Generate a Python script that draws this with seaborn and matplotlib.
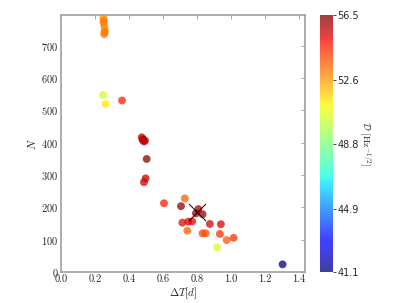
import numpy as np
import pandas as pd
import seaborn as sns
import matplotlib
matplotlib.use('Agg')
import matplotlib.pyplot as plt

# values
dT = [0.249, 0.252, 0.250, 0.255, 0.258, 0.256, 0.254,
      0.247, 0.263, 0.359,
      0.475, 0.494, 0.483, 0.488, 0.480,
      0.504, 0.498, 0.488,
      0.606, 0.729, 0.706, 0.808, 0.794, 0.833,
      0.714, 0.749, 0.772, 0.743, 0.876, 0.941,
      0.833, 0.851, 0.935, 0.975, 1.016, 0.919, 1.304]
N = [786, 778, 772, 760, 747, 742, 736,
     548, 520, 531,
     417, 407, 411, 404, 409,
     350, 290, 278,
     213, 228, 204, 195, 182, 179,
     153, 156, 157, 128, 149, 148,
     120, 120, 118, 99, 106, 77, 24]
D = [53.0, 53.0, 53.1, 53.0, 52.9, 53.0, 53.1,
     50.3, 51.3, 54.6,
     55.7, 55.6, 56.0, 55.8, 55.5,
     56.4, 55.6, 55.3,
     54.7, 53.6, 56.2, 55.8, 56.5, 56.2,
     55.0, 55.2, 55.0, 53.6, 55.3, 55.2,
     54.0, 53.9, 54.3, 53.7, 54.3, 50.5, 41.2]

mean_dT = [0.80]
mean_N = [185]

cbar_ticks = [41.1, 44.9, 48.8, 52.6, 56.5]
cbar_labels = ['41.1', '44.9', '48.8', '52.6', '56.5']
vmin, vmax = 41.1, 56.5

df = pd.DataFrame({'dT': dT, 'N': N, 'D': D})

sns.set_style('white')
plt.rcParams['font.family'] = 'serif'
plt.rcParams['font.serif'] = ['cmr10', 'DejaVu Serif']
plt.rcParams['mathtext.fontset'] = 'cm'
plt.rcParams['axes.formatter.use_mathtext'] = True

fig = plt.figure(figsize=(4.07, 3.03), dpi=100)
ax = fig.add_axes([0.150, 0.102, 0.599, 0.848])

jet = plt.get_cmap('jet')
norm = plt.Normalize(vmin, vmax)
sns.scatterplot(data=df, x='dT', y='N', hue='D', palette=jet, hue_norm=norm,
                s=32, alpha=0.75, linewidth=0, legend=False, ax=ax)
ax.scatter(mean_dT, mean_N, marker='x', s=150, color='black', linewidth=0.7, zorder=5)

ax.set_xlim(0, 1.435)
ax.set_ylim(0, 795)
ax.set_xticks([0.0, 0.2, 0.4, 0.6, 0.8, 1.0, 1.2, 1.4])
ax.set_yticks([0, 100, 200, 300, 400, 500, 600, 700])
ax.set_xticklabels(['0.0', '0.2', '0.4', '0.6', '0.8', '1.0', '1.2', '1.4'])
ax.set_xlabel(r'$\Delta T[d]$', fontsize=8, labelpad=1)
ax.set_ylabel(r'$N$', fontsize=8, labelpad=2)
ax.tick_params(direction='in', top=True, right=True, length=3, width=0.6,
               color='#999999', labelsize=7.5, pad=2)
for sp in ax.spines.values():
    sp.set_color('#a0a0a0')
    sp.set_linewidth(1.2)

cax = fig.add_axes([0.786, 0.102, 0.032, 0.848])
sm = plt.cm.ScalarMappable(norm=norm, cmap=jet)
cb = fig.colorbar(sm, cax=cax, ticks=cbar_ticks, alpha=0.75)
cb.outline.set_visible(False)
cb.ax.set_yticklabels(cbar_labels)
cb.ax.tick_params(length=2, width=0.6, labelsize=7, pad=1)
for t in cb.ax.get_yticklabels():
    t.set_fontfamily('DejaVu Sans')
cb.set_label(r'$\mathcal{D}$ [Hz$^{-1/2}$]', rotation=270, fontsize=7, labelpad=10)

fig.savefig('out.png', dpi=100)
